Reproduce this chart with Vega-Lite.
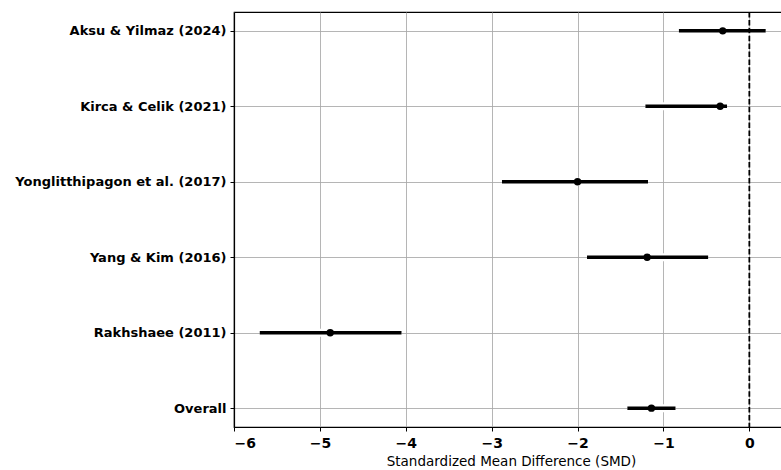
{
  "$schema": "https://vega.github.io/schema/vega-lite/v6.json",
  "autosize": {"type": "none"},
  "padding": {"left": 234, "top": 12, "right": 0, "bottom": 43},
  "width": 554,
  "height": 415,
  "background": "white",
  "config": {
    "view": {"stroke": "black", "strokeWidth": 1.2},
    "font": "DejaVu Sans",
    "axis": {
      "labelFont": "DejaVu Sans",
      "titleFont": "DejaVu Sans",
      "labelFontSize": 13,
      "labelFontWeight": "bold",
      "labelColor": "black",
      "titleColor": "black",
      "labelLimit": 400,
      "domainColor": "black",
      "domainWidth": 1.2,
      "tickColor": "black",
      "tickSize": 4,
      "tickWidth": 1,
      "gridColor": "#a8a8a8",
      "gridWidth": 1,
      "gridOpacity": 0.85
    }
  },
  "data": {
    "values": [
      {"study": "Aksu & Yilmaz (2024)", "smd": -0.31, "lo": -0.82, "hi": 0.19},
      {"study": "Kirca & Celik (2021)", "smd": -0.34, "lo": -1.21, "hi": -0.26},
      {"study": "Yonglitthipagon et al. (2017)", "smd": -2.0, "lo": -2.88, "hi": -1.18},
      {"study": "Yang & Kim (2016)", "smd": -1.19, "lo": -1.89, "hi": -0.48},
      {"study": "Rakhshaee (2011)", "smd": -4.88, "lo": -5.7, "hi": -4.05},
      {"study": "Overall", "smd": -1.14, "lo": -1.42, "hi": -0.86}
    ]
  },
  "encoding": {
    "y": {
      "field": "study",
      "type": "nominal",
      "sort": null,
      "scale": {"type": "point", "padding": 0.25},
      "axis": {"title": null, "grid": true, "labelPadding": 4, "domain": true}
    }
  },
  "layer": [
    {
      "mark": {"type": "rule", "color": "white", "strokeWidth": 8},
      "encoding": {
        "x": {
          "field": "lo",
          "type": "quantitative",
          "scale": {"domain": [-6, 0.45], "nice": false, "zero": false},
          "axis": {
            "title": "Standardized Mean Difference (SMD)",
            "titleFontSize": 13.5,
            "titleFontWeight": "normal",
            "titlePadding": 4,
            "labelPadding": 5,
            "labelFontSize": 14,
            "format": "d",
            "values": [-6, -5, -4, -3, -2, -1, 0],
            "grid": true
          }
        },
        "x2": {"field": "hi"}
      }
    },
    {
      "data": {"values": [{"ref": 0}]},
      "mark": {"type": "rule", "color": "black", "strokeWidth": 1.8, "strokeDash": [5.5, 2.4]},
      "encoding": {
        "x": {"field": "ref", "type": "quantitative"},
        "y": null
      }
    },
    {
      "mark": {"type": "rule", "color": "black", "strokeWidth": 3.5},
      "encoding": {
        "x": {"field": "lo", "type": "quantitative"},
        "x2": {"field": "hi"}
      }
    },
    {
      "mark": {"type": "point", "filled": true, "shape": "circle", "color": "black", "size": 55, "opacity": 1},
      "encoding": {
        "x": {"field": "smd", "type": "quantitative"}
      }
    }
  ]
}
